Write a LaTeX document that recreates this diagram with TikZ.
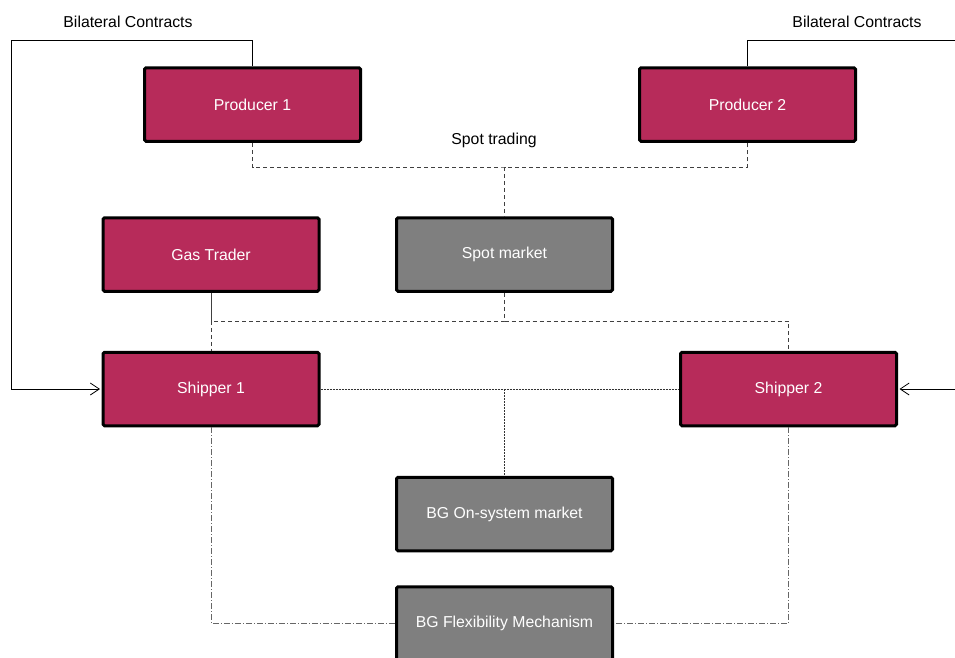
\documentclass[tikz,border=0pt]{standalone}
\usepackage{fontspec}
\setmainfont{Liberation Sans}
\usetikzlibrary{arrows.meta}
\definecolor{berry}{HTML}{B72B5A}
\definecolor{slate}{HTML}{7F7F7F}
\begin{document}
\begin{tikzpicture}[x=1pt,y=-1pt,
  box/.style={draw=black, line width=3pt, rounded corners=1.5pt,
    minimum width=216pt, minimum height=73.5pt, inner sep=0pt,
    text=white, font=\fontsize{15.8}{18}\selectfont},
  party/.style={box, fill=berry},
  market/.style={box, fill=slate},
  lbl/.style={font=\fontsize{15.8}{18}\selectfont, text=black},
  contract/.style={draw=black, line width=0.8pt, shorten >=1.5pt,
    -{Straight Barb[length=9pt,width=12pt]}},
  spot/.style={draw=black!75, line width=1pt, dash pattern=on 4pt off 3pt},
  onsys/.style={draw=black!80, line width=0.9pt, dash pattern=on 2pt off 1pt},
  flex/.style={draw=black!60, line width=1pt, dash pattern=on 6pt off 2pt on 1pt off 2pt}
]
\useasboundingbox (0,0) rectangle (955,657);

% market participants and market places
\node[party]  (p1) at (252.5,104.5) {Producer 1};
\node[party]  (p2) at (747.5,104.5) {Producer 2};
\node[party]  (gt) at (211,254.5)   {Gas Trader};
\node[market] (sm) at (504.5,254.5) {Spot market};
\node[party]  (s1) at (211,389)     {Shipper 1};
\node[party]  (s2) at (788.5,389)   {Shipper 2};
\node[market] (os) at (504.5,514)   {BG On-system market};
\node[market] (fm) at (504.5,623.5) {BG Flexibility Mechanism};

% labels
\node[lbl] (bcl) at (128,22)  {Bilateral Contracts};
\node[lbl] (bcr) at (857,22)  {Bilateral Contracts};
\node[lbl] (st)  at (494,140) {Spot trading};

% bilateral contracts
\coordinate (cl) at (11,40);
\coordinate (cr) at (956,40);
\draw[contract] (p1.north) |- (cl) |- (s1.west);
\draw[contract] (p2.north) |- (cr) |- (s2.east);

% spot trading
\coordinate (sj) at (504.5,167);
\coordinate (mj) at (504.5,321);
\draw[spot] (p1.south) |- (sj) -| (p2.south);
\draw[spot] (sj) -- (sm.north);
\draw[spot] (sm.south) -- (mj) -| (gt.south);
\draw[spot] (gt.south) -- (s1.north);
\draw[spot] (mj) -| (s2.north);

% on-system market
\draw[onsys] (s1.east) -- (s2.west);
\draw[onsys] (s1.east -| os.north) -- (os.north);

% flexibility mechanism
\draw[flex] (s1.south) |- (fm.west);
\draw[flex] (s2.south) |- (fm.east);
\end{tikzpicture}
\end{document}
